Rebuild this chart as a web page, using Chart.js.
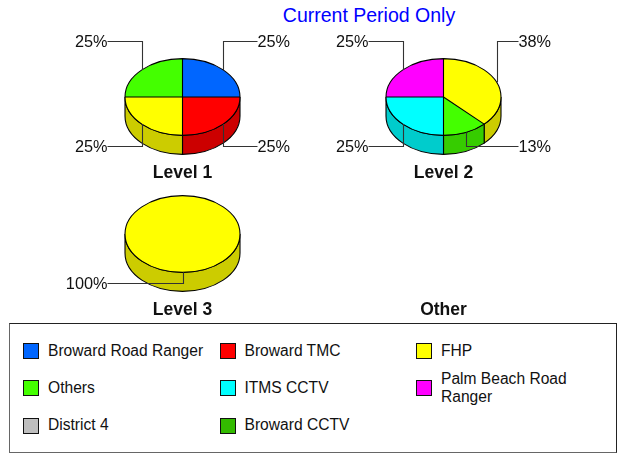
<!DOCTYPE html>
<html>
<head>
<meta charset="utf-8">
<title>Current Period Only</title>
<script src="https://cdn.jsdelivr.net/npm/chart.js@4"></script>
<style>
    html, body { margin: 0; padding: 0; background: #fff; overflow: hidden; }
    body { width: 621px; height: 453px; position: relative; font-family: "Liberation Sans", Arial, sans-serif; color: #111; }
    canvas { position: absolute; }
    #title { position: absolute; left: 169px; width: 400px; top: 3px; text-align: center; font-size: 19.5px; line-height: 24px; color: #0000ff; }
    #legend { position: absolute; left: 9px; top: 323px; width: 606px; height: 128px; border: 1px solid #222; border-left-color: #666; border-bottom-color: #666; }
    .item { position: absolute; width: 190px; height: 40px; display: flex; align-items: center; font-size: 15.6px; line-height: 17.5px; }
    .item div + div { margin-top: -1px; }
    .swatch { flex: none; width: 14px; height: 14px; border: 1px solid #111; margin-right: 9px; }
</style>
</head>
<body>
<div id="title">Current Period Only</div>
<canvas id="level1" width="263" height="159" style="left:51px;top:25px"></canvas>
<canvas id="level2" width="263" height="159" style="left:312px;top:25px"></canvas>
<canvas id="level3" width="263" height="159" style="left:51px;top:162px"></canvas>
<canvas id="other" width="263" height="159" style="left:312px;top:162px"></canvas>
<div id="legend"></div>
<script>
var seriesNames = ['Broward Road Ranger', 'Broward TMC', 'FHP', 'Others', 'ITMS CCTV', 'Palm Beach Road Ranger', 'District 4', 'Broward CCTV'];
var seriesColors = ['#0066ff', '#ff0000', '#ffff00', '#44ff00', '#00ffff', '#ff00ff', '#bebebe', '#33bb00'];

var level1Names = ['Broward Road Ranger', 'Broward TMC', 'FHP', 'Others'];
var level1Values = [25, 25, 25, 25];
var level2Names = ['FHP', 'Others', 'ITMS CCTV', 'Palm Beach Road Ranger'];
var level2Values = [37.5, 12.5, 25, 25];
var level3Names = ['FHP'];
var level3Values = [100];
var otherNames = [];
var otherValues = [];

var squash = 2 / 3;     // top of the pie is an ellipse
var depth = 19;         // height of the side wall
var wallShade = 0.8;

function colorOf(name) {
    return seriesColors[seriesNames.indexOf(name)];
}

function darker(hex) {
    var out = '#';
    for (var i = 1; i < 7; i += 2) {
        var c = Math.round(parseInt(hex.substr(i, 2), 16) * wallShade).toString(16);
        out += c.length < 2 ? '0' + c : c;
    }
    return out;
}

// side wall, top squashing, outlines and leader labels for a Chart.js pie
var pie3d = {
    id: 'pie3d',
    beforeDatasetsDraw: function(chart) {
        var arcs = chart.getDatasetMeta(0).data;
        if (!arcs.length) return;
        var ctx = chart.ctx;
        var cx = arcs[0].x, cy = arcs[0].y, rx = arcs[0].outerRadius, ry = rx * squash;
        var colors = chart.data.datasets[0].backgroundColor;

        ctx.save();
        ctx.lineWidth = 1.1;
        ctx.strokeStyle = '#000';
        arcs.forEach(function(arc, i) {
            var a = Math.max(arc.startAngle, 0);
            var b = Math.min(arc.endAngle, Math.PI);
            if (b <= a) return;
            ctx.beginPath();
            ctx.ellipse(cx, cy, rx, ry, 0, a, b);
            ctx.ellipse(cx, cy + depth, rx, ry, 0, b, a, true);
            ctx.closePath();
            ctx.fillStyle = darker(colors[i]);
            ctx.fill();
            ctx.stroke();
        });
        ctx.restore();

        // the library draws the slices inside this transform
        ctx.save();
        ctx.translate(cx, cy);
        ctx.scale(1, squash);
        ctx.translate(-cx, -cy);
    },
    afterDatasetsDraw: function(chart) {
        var arcs = chart.getDatasetMeta(0).data;
        if (!arcs.length) return;
        var ctx = chart.ctx;
        ctx.restore();

        var cx = arcs[0].x, cy = arcs[0].y, rx = arcs[0].outerRadius, ry = rx * squash;
        var values = chart.data.datasets[0].data;
        var total = values.reduce(function(s, v) { return s + v; }, 0);

        ctx.save();
        ctx.lineWidth = 1.1;
        ctx.strokeStyle = '#000';
        ctx.beginPath();
        ctx.ellipse(cx, cy, rx, ry, 0, 0, Math.PI * 2);
        if (arcs.length > 1) {
            arcs.forEach(function(arc) {
                ctx.moveTo(cx, cy);
                ctx.lineTo(cx + rx * Math.cos(arc.startAngle), cy + ry * Math.sin(arc.startAngle));
            });
        }
        ctx.stroke();

        ctx.font = '16.3px "Liberation Sans", Arial, sans-serif';
        ctx.textBaseline = 'middle';
        ctx.fillStyle = '#111';
        ctx.strokeStyle = '#333';
        arcs.forEach(function(arc, i) {
            var mid = (arc.startAngle + arc.endAngle) / 2;
            var px = Math.round(cx + rx * Math.cos(mid)) + 0.5;
            var py = cy + ry * Math.sin(mid);
            var right = Math.cos(mid) > 0.0001;
            var upper = Math.sin(mid) < 0;
            var ly = upper ? cy - 55.5 : cy + 49.5;
            var lx = right ? cx + 75 : cx - 75;
            ctx.beginPath();
            ctx.moveTo(px, py);
            ctx.lineTo(px, ly);
            ctx.lineTo(lx, ly);
            ctx.stroke();
            ctx.textAlign = right ? 'left' : 'right';
            ctx.fillText(Math.round(values[i] / total * 100) + '%', lx, ly + 1.5);
        });
        ctx.restore();
    }
};

function makePie(id, title, names, values) {
    return new Chart(document.getElementById(id).getContext('2d'), {
        type: 'pie',
        data: {
            labels: names,
            datasets: [{
                data: values,
                backgroundColor: names.map(colorOf),
                borderWidth: 0,
                clip: false
            }]
        },
        options: {
            responsive: false,
            animation: false,
            events: [],
            layout: { padding: { left: 74, right: 74, top: 14.5, bottom: 0 } },
            plugins: {
                legend: { display: false },
                tooltip: { enabled: false },
                title: {
                    display: true,
                    text: title,
                    position: 'bottom',
                    color: '#111',
                    padding: { top: 8.5, bottom: 0 },
                    font: { family: '"Liberation Sans", Arial, sans-serif', size: 17.5, weight: 'bold', lineHeight: 1.2 }
                }
            }
        },
        plugins: [pie3d]
    });
}

makePie('level1', 'Level 1', level1Names, level1Values);
makePie('level2', 'Level 2', level2Names, level2Values);
makePie('level3', 'Level 3', level3Names, level3Values);
makePie('other', 'Other', otherNames, otherValues);

// legend box, three columns
var legend = document.getElementById('legend');
var colLeft = [13, 209.5, 406];
var rowTop = [7, 44, 81.5];
seriesNames.forEach(function(name, i) {
    var item = document.createElement('div');
    item.className = 'item';
    item.style.left = colLeft[i % 3] + 'px';
    item.style.top = rowTop[Math.floor(i / 3)] + 'px';
    var box = document.createElement('div');
    box.className = 'swatch';
    box.style.background = seriesColors[i];
    var text = document.createElement('div');
    text.textContent = name;
    item.appendChild(box);
    item.appendChild(text);
    legend.appendChild(item);
});
</script>
</body>
</html>
